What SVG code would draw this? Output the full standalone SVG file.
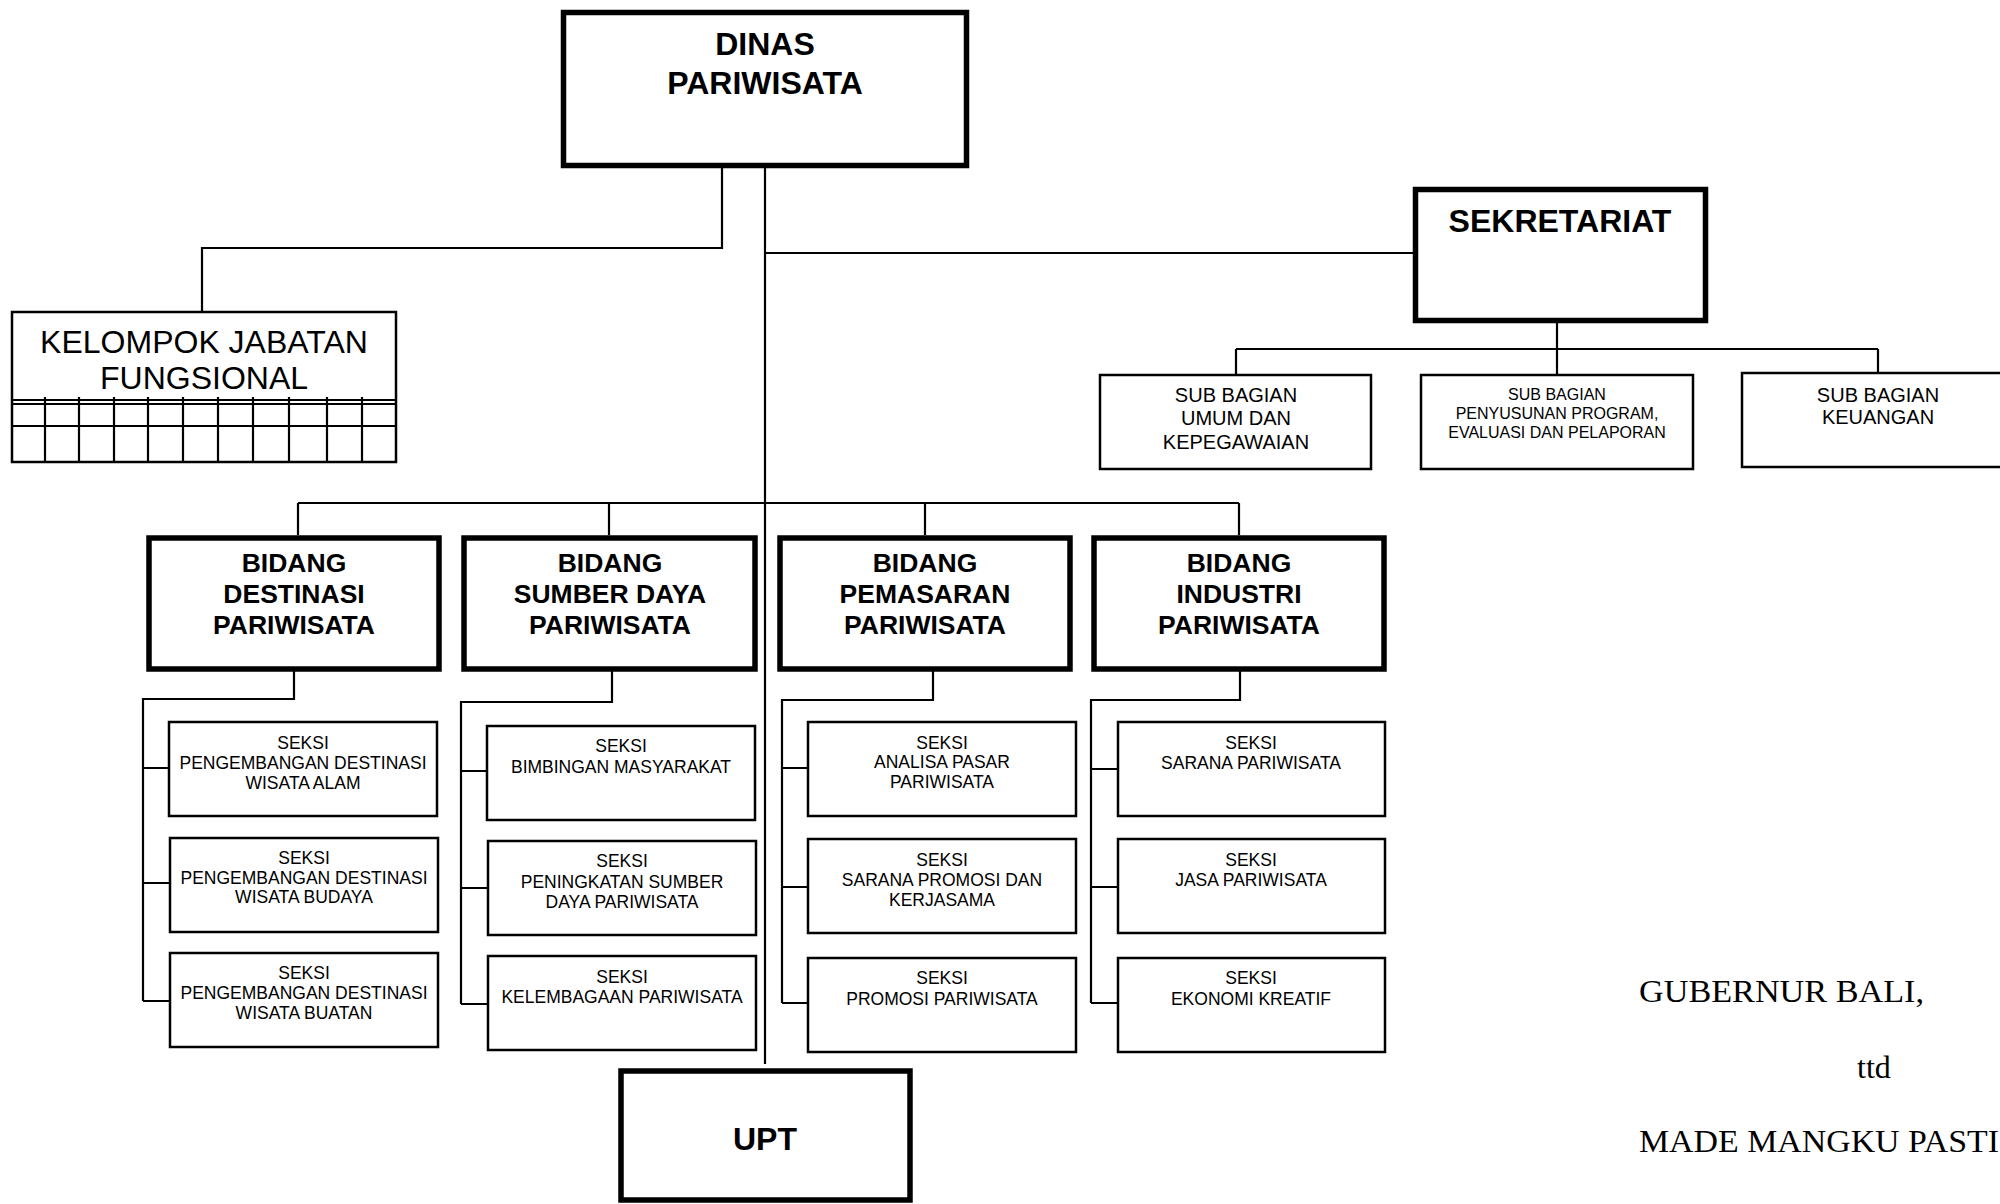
<svg xmlns="http://www.w3.org/2000/svg" width="2000" height="1204" viewBox="0 0 2000 1204">
<style>
.thick{fill:#fff;stroke:#000;stroke-width:5.5}
.thin{fill:#fff;stroke:#000;stroke-width:2.5}
.ln{fill:none;stroke:#000;stroke-width:2.2}
.t{font-family:"Liberation Sans",Arial,sans-serif;text-anchor:middle;fill:#000}
.b32{font-size:32px;font-weight:bold}
.r32{font-size:32px}
.b26{font-size:26.5px;font-weight:bold}
.s20{font-size:20px}
.s16{font-size:16px}
.s17{font-size:17.5px}
.sig{font-family:"Liberation Serif","Times New Roman",serif;font-size:32px;fill:#000}
</style>
<rect width="2000" height="1204" fill="#fff"/>
<g id="connectors">
<path class="ln" d="M765 168V1064"/>
<path class="ln" d="M722 168V248H202V311"/>
<path class="ln" d="M765 253H1413"/>
<path class="ln" d="M1557 323V374M1236 349H1878M1236 349V374M1878 349V372"/>
<path class="ln" d="M298 503H1239M298 503V535M609 503V535M925 503V535M1239 503V535"/>
<path class="ln" d="M294 671V699H143V1001M143 768H169M143 883H170M143 1001H170"/>
<path class="ln" d="M612 671V702H461V1004M461 771H486M461 888H487M461 1004H487"/>
<path class="ln" d="M933 671V700H782V1003M782 768H807M782 887H807M782 1003H807"/>
<path class="ln" d="M1240 671V700H1091V1003M1091 769H1117M1091 887H1117M1091 1003H1117"/>
</g>
<g id="dinas">
<rect class="thick" x="563.5" y="12.5" width="403" height="153"/>
<text class="t b32" x="765" y="55">DINAS</text>
<text class="t b32" x="765" y="94">PARIWISATA</text>
</g>
<g id="kelompok">
<rect class="thin" x="12" y="312" width="384" height="150"/>
<path class="ln" d="M11 400H397M11 404H397M11 426H397M11 462H397"/>
<path class="ln" d="M45 397V462M79 397V462M114 397V462M148 397V462M183 397V462M218 397V462M253 397V462M289 397V462M327 397V462M362 397V462"/>
<text class="t r32" x="204" y="353">KELOMPOK JABATAN</text>
<text class="t r32" x="204" y="389">FUNGSIONAL</text>
</g>
<g id="sekretariat">
<rect class="thick" x="1415.5" y="189.5" width="290" height="131"/>
<text class="t b32" x="1560" y="232">SEKRETARIAT</text>
</g>
<g id="sub1">
<rect class="thin" x="1100" y="375" width="271" height="94"/>
<text class="t s20" x="1236" y="402">SUB BAGIAN</text>
<text class="t s20" x="1236" y="425">UMUM DAN</text>
<text class="t s20" x="1236" y="449">KEPEGAWAIAN</text>
</g>
<g id="sub2">
<rect class="thin" x="1421" y="375" width="272" height="94"/>
<text class="t s16" x="1557" y="400">SUB BAGIAN</text>
<text class="t s16" x="1557" y="419">PENYUSUNAN PROGRAM,</text>
<text class="t s16" x="1557" y="438">EVALUASI DAN PELAPORAN</text>
</g>
<g id="sub3">
<rect class="thin" x="1742" y="373" width="272" height="94"/>
<text class="t s20" x="1878" y="402">SUB BAGIAN</text>
<text class="t s20" x="1878" y="424">KEUANGAN</text>
</g>
<g id="bidang1">
<rect class="thick" x="149" y="538" width="290" height="131"/>
<text class="t b26" x="294" y="572">BIDANG</text>
<text class="t b26" x="294" y="603">DESTINASI</text>
<text class="t b26" x="294" y="634">PARIWISATA</text>
</g>
<g id="bidang2">
<rect class="thick" x="464" y="538" width="291" height="131"/>
<text class="t b26" x="610" y="572">BIDANG</text>
<text class="t b26" x="610" y="603">SUMBER DAYA</text>
<text class="t b26" x="610" y="634">PARIWISATA</text>
</g>
<g id="bidang3">
<rect class="thick" x="780" y="538" width="290" height="131"/>
<text class="t b26" x="925" y="572">BIDANG</text>
<text class="t b26" x="925" y="603">PEMASARAN</text>
<text class="t b26" x="925" y="634">PARIWISATA</text>
</g>
<g id="bidang4">
<rect class="thick" x="1094" y="538" width="290" height="131"/>
<text class="t b26" x="1239" y="572">BIDANG</text>
<text class="t b26" x="1239" y="603">INDUSTRI</text>
<text class="t b26" x="1239" y="634">PARIWISATA</text>
</g>
<g id="seksi1a">
<rect class="thin" x="169" y="722" width="268" height="94"/>
<text class="t s17" x="303" y="749">SEKSI</text>
<text class="t s17" x="303" y="769">PENGEMBANGAN DESTINASI</text>
<text class="t s17" x="303" y="789">WISATA ALAM</text>
</g>
<g id="seksi1b">
<rect class="thin" x="170" y="838" width="268" height="94"/>
<text class="t s17" x="304" y="864">SEKSI</text>
<text class="t s17" x="304" y="884">PENGEMBANGAN DESTINASI</text>
<text class="t s17" x="304" y="903">WISATA BUDAYA</text>
</g>
<g id="seksi1c">
<rect class="thin" x="170" y="953" width="268" height="94"/>
<text class="t s17" x="304" y="979">SEKSI</text>
<text class="t s17" x="304" y="999">PENGEMBANGAN DESTINASI</text>
<text class="t s17" x="304" y="1019">WISATA BUATAN</text>
</g>
<g id="seksi2a">
<rect class="thin" x="487" y="726" width="268" height="94"/>
<text class="t s17" x="621" y="752">SEKSI</text>
<text class="t s17" x="621" y="773">BIMBINGAN MASYARAKAT</text>
</g>
<g id="seksi2b">
<rect class="thin" x="488" y="841" width="268" height="94"/>
<text class="t s17" x="622" y="867">SEKSI</text>
<text class="t s17" x="622" y="888">PENINGKATAN SUMBER</text>
<text class="t s17" x="622" y="908">DAYA PARIWISATA</text>
</g>
<g id="seksi2c">
<rect class="thin" x="488" y="956" width="268" height="94"/>
<text class="t s17" x="622" y="983">SEKSI</text>
<text class="t s17" x="622" y="1003">KELEMBAGAAN PARIWISATA</text>
</g>
<g id="seksi3a">
<rect class="thin" x="808" y="722" width="268" height="94"/>
<text class="t s17" x="942" y="749">SEKSI</text>
<text class="t s17" x="942" y="768">ANALISA PASAR</text>
<text class="t s17" x="942" y="788">PARIWISATA</text>
</g>
<g id="seksi3b">
<rect class="thin" x="808" y="839" width="268" height="94"/>
<text class="t s17" x="942" y="866">SEKSI</text>
<text class="t s17" x="942" y="886">SARANA PROMOSI DAN</text>
<text class="t s17" x="942" y="906">KERJASAMA</text>
</g>
<g id="seksi3c">
<rect class="thin" x="808" y="958" width="268" height="94"/>
<text class="t s17" x="942" y="984">SEKSI</text>
<text class="t s17" x="942" y="1005">PROMOSI PARIWISATA</text>
</g>
<g id="seksi4a">
<rect class="thin" x="1118" y="722" width="267" height="94"/>
<text class="t s17" x="1251" y="749">SEKSI</text>
<text class="t s17" x="1251" y="769">SARANA PARIWISATA</text>
</g>
<g id="seksi4b">
<rect class="thin" x="1118" y="839" width="267" height="94"/>
<text class="t s17" x="1251" y="866">SEKSI</text>
<text class="t s17" x="1251" y="886">JASA PARIWISATA</text>
</g>
<g id="seksi4c">
<rect class="thin" x="1118" y="958" width="267" height="94"/>
<text class="t s17" x="1251" y="984">SEKSI</text>
<text class="t s17" x="1251" y="1005">EKONOMI KREATIF</text>
</g>
<g id="upt">
<rect class="thick" x="621" y="1071" width="289" height="129"/>
<text class="t b32" x="765" y="1150">UPT</text>
</g>
<g id="signature">
<text class="sig" x="1639" y="1002" textLength="285" lengthAdjust="spacingAndGlyphs">GUBERNUR BALI,</text>
<text class="sig" x="1857" y="1078">ttd</text>
<text class="sig" x="1639" y="1152" textLength="360" lengthAdjust="spacingAndGlyphs">MADE MANGKU PASTI</text>
</g>
</svg>
